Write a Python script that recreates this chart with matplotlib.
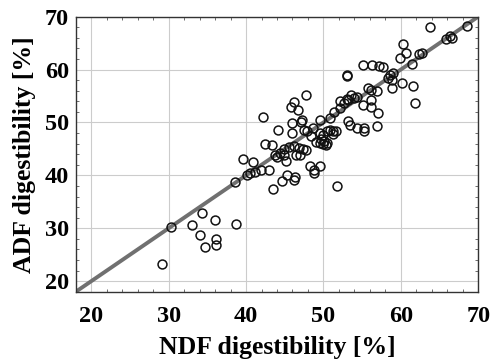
import numpy as np
import matplotlib
matplotlib.use('Agg')
import matplotlib.pyplot as plt
from matplotlib.ticker import MultipleLocator

# NDF digestibility (x) and ADF digestibility (y)
ndf = [63.8, 68.5, 65.8, 66.3, 66.6, 60.3, 60.7, 59.9, 62.4, 62.7,
       61.4, 55.1, 56.3, 57.2, 57.7, 53.0, 53.1, 59.0, 58.4, 58.8,
       60.2, 61.6, 58.8, 55.7, 56.2, 56.9, 61.8, 52.1, 53.0, 53.2,
       53.6, 54.3, 55.1, 56.2, 56.2, 57.1, 52.1, 50.8, 53.2, 53.4,
       54.3, 55.3, 55.3, 56.9, 49.5, 49.5, 49.9, 50.4, 50.8, 51.2,
       51.6, 49.7, 50.1, 50.5, 49.9, 50.3, 49.5, 51.2, 49.1, 47.8,
       46.2, 45.8, 46.7, 46.0, 47.1, 42.2, 44.1, 47.5, 47.9, 46.0,
       48.4, 42.4, 43.3, 43.8, 44.4, 44.9, 45.6, 46.2, 44.0, 44.9,
       46.4, 47.0, 46.8, 47.3, 47.7, 45.2, 39.6, 40.9, 40.1, 40.5,
       41.2, 41.9, 43.0, 48.3, 48.8, 48.8, 49.5, 45.3, 46.3, 46.2,
       44.7, 43.5, 51.7, 38.6, 30.3, 33.0, 34.3, 34.1, 36.0, 36.1,
       36.1, 34.7, 38.7, 29.1, 52.6, 54.0, 58.6, 51.4, 48.6, 47.2]
adf = [68.1, 68.2, 65.7, 66.3, 66.0, 64.8, 63.1, 62.1, 63.0, 63.1,
       61.1, 60.8, 60.8, 60.6, 60.4, 58.9, 58.8, 59.3, 58.4, 58.1,
       57.4, 56.8, 56.5, 56.5, 56.2, 56.0, 53.6, 54.0, 54.5, 54.2,
       55.1, 54.8, 53.3, 54.3, 53.0, 51.8, 52.7, 50.8, 50.2, 49.6,
       48.9, 48.9, 48.3, 49.4, 50.5, 48.0, 47.7, 48.3, 48.6, 48.3,
       48.3, 46.8, 46.5, 46.2, 46.0, 45.8, 46.2, 47.8, 46.4, 55.2,
       53.8, 53.0, 52.4, 49.9, 50.0, 51.0, 48.5, 48.6, 48.3, 48.1,
       47.4, 46.0, 45.7, 43.8, 44.2, 44.9, 45.3, 45.6, 43.4, 43.9,
       43.9, 43.9, 45.2, 45.0, 44.8, 42.7, 43.1, 42.6, 40.1, 40.4,
       40.7, 41.0, 41.1, 41.8, 41.1, 40.4, 41.7, 40.0, 39.7, 39.2,
       38.9, 37.5, 37.9, 38.7, 30.3, 30.6, 32.9, 28.7, 31.5, 28.0,
       26.9, 26.4, 30.8, 23.3, 53.7, 54.6, 58.9, 52.0, 49.0, 50.4]

# 1:1 line
line_x = [18, 70]
line_y = [18, 70]

plt.rcParams['font.family'] = ['Liberation Serif', 'DejaVu Serif']
plt.rcParams['font.weight'] = 'bold'

fig = plt.figure(figsize=(4.92, 3.62), dpi=100)
ax = fig.add_axes([0.154, 0.194, 0.818, 0.760])

ax.plot(line_x, line_y, color='#707070', linewidth=2.8, zorder=2)
ax.plot(ndf, adf, linestyle='none', marker='o', markersize=6.4,
        markerfacecolor='none', markeredgecolor='#111111',
        markeredgewidth=1.1, zorder=3)

ax.set_xlim(18, 70)
ax.set_ylim(18, 70)
ax.xaxis.set_major_locator(MultipleLocator(10))
ax.yaxis.set_major_locator(MultipleLocator(10))
ax.xaxis.set_minor_locator(MultipleLocator(2))
ax.yaxis.set_minor_locator(MultipleLocator(2))
ax.grid(True, which='major', color='#cccccc', linewidth=0.8, zorder=0)
ax.set_axisbelow(True)

ax.tick_params(which='both', direction='in', top=True, right=True,
               labelsize=17.5, color='#555555')
ax.tick_params(axis='x', which='major', length=0, pad=10)
ax.tick_params(axis='y', which='major', length=0, pad=5)
ax.tick_params(which='minor', length=2.5, width=0.6)
for lab in ax.get_xticklabels() + ax.get_yticklabels():
    lab.set_fontweight('bold')

for s in ax.spines.values():
    s.set_color('#333333')
    s.set_linewidth(1.0)

ax.set_xlabel('NDF digestibility [%]', fontsize=18.5, fontweight='bold', labelpad=7)
ax.set_ylabel('ADF digestibility [%]', fontsize=18.5, fontweight='bold', labelpad=6)

fig.savefig('out.png', dpi=100)
